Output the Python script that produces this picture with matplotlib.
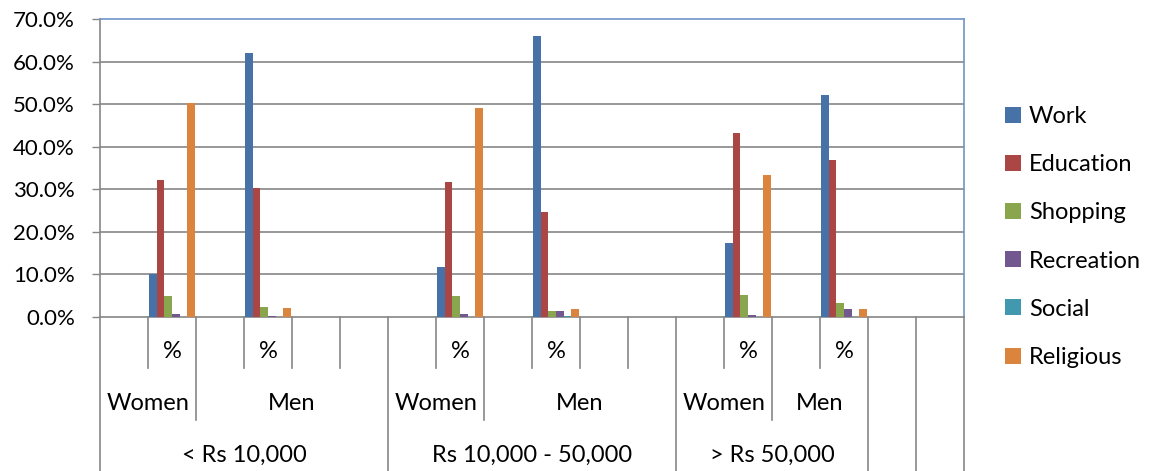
import numpy as np
import matplotlib
matplotlib.use('Agg')
import matplotlib.pyplot as plt

plt.rcParams['font.family'] = ['Lato', 'DejaVu Sans']

nan = np.nan

# 18 category slots from the sheet (blank rows included)
level1 = ['', '%', '', '%', '', '',
          '', '%', '', '%', '', '',
          '', '%', '', '%', '', '']
level2 = [('Women', 2), ('Men', 4),
          ('Women', 2), ('Men', 4),
          ('Women', 2), ('Men', 2), ('', 1), ('', 1)]
level3 = [('< Rs 10,000', 6), ('Rs 10,000 - 50,000', 6), ('> Rs 50,000', 4), ('', 1), ('', 1)]

series = ['Work', 'Education', 'Shopping', 'Recreation', 'Social', 'Religious']
work       = [nan, 10.0, nan, 62.0, nan, nan, nan, 11.8, nan, 65.9, nan, nan, nan, 17.4, nan, 52.2, nan, nan]
education  = [nan, 32.1, nan, 30.3, nan, nan, nan, 31.8, nan, 24.7, nan, nan, nan, 43.3, nan, 36.9, nan, nan]
shopping   = [nan, 5.0, nan, 2.4, nan, nan, nan, 5.0, nan, 1.3, nan, nan, nan, 5.1, nan, 3.3, nan, nan]
recreation = [nan, 0.8, nan, 0.2, nan, nan, nan, 0.6, nan, 1.3, nan, nan, nan, 0.5, nan, 1.9, nan, nan]
social     = [nan, 0.0, nan, 0.0, nan, nan, nan, 0.0, nan, 0.2, nan, nan, nan, 0.0, nan, 0.0, nan, nan]
religious  = [nan, 50.3, nan, 2.0, nan, nan, nan, 49.0, nan, 1.8, nan, nan, nan, 33.3, nan, 1.9, nan, nan]
values = [work, education, shopping, recreation, social, religious]

colors = ['#4672A8', '#AA4643', '#89A54E', '#71588F', '#4198AF', '#DB843D']
grid_c = '#868686'
fs = 17

fig = plt.figure(figsize=(11.5, 4.71), dpi=100)
ax = fig.add_axes([100 / 1150, 1 - 317 / 471, 864 / 1150, 298 / 471])

x = np.arange(len(level1))
w = 0.16
for i, (name, vals) in enumerate(zip(series, values)):
    ax.bar(x + (i - 2.5) * w, vals, w, color=colors[i], label=name, zorder=3)

ax.set_xlim(-0.5, len(level1) - 0.5)
ax.set_ylim(0, 70)
yt = np.arange(0, 71, 10)
ax.set_yticks(yt)
ax.set_yticklabels([f'{v:.1f}%' for v in yt], fontsize=16)
ax.tick_params(axis='y', length=6, width=1, color=grid_c, pad=12)
ax.set_xticks([])
for v in yt[1:-1]:
    ax.axhline(v, color=grid_c, lw=1.2, zorder=1)

for s in ['top', 'right']:
    ax.spines[s].set_color('#7094C8')
    ax.spines[s].set_linewidth(1.2)
for s in ['left', 'bottom']:
    ax.spines[s].set_color(grid_c)
    ax.spines[s].set_linewidth(1.2)

# multi-level category axis
tr = ax.get_xaxis_transform()
row_bot = [-51 / 298, -103 / 298, -154 / 298]
row_mid = [-35 / 298, -87 / 298, -138 / 298]


def bounds(spans):
    b, pos = {-0.5}, -0.5
    for _, n in spans:
        pos += n
        b.add(pos)
    return b


b2 = bounds(level2)
b3 = bounds(level3)
for k in range(len(level1) + 1):
    bx = k - 0.5
    depth = 2 if bx in b3 else (1 if bx in b2 else 0)
    ax.plot([bx, bx], [0, row_bot[depth]], transform=tr, color=grid_c,
            lw=1.2, clip_on=False)

for i, lab in enumerate(level1):
    ax.text(i, row_mid[0], lab, transform=tr, ha='center', va='center', fontsize=fs)

for row, spans in ((1, level2), (2, level3)):
    pos = -0.5
    for lab, n in spans:
        ax.text(pos + n / 2, row_mid[row], lab, transform=tr, ha='center',
                va='center', fontsize=fs)
        pos += n

leg = fig.legend(loc='center left', bbox_to_anchor=(1005 / 1150, 1 - 237 / 471),
                 frameon=False, fontsize=fs, handlelength=0.66, handleheight=0.66,
                 handletextpad=0.35, labelspacing=1.15, borderpad=0, borderaxespad=0)

fig.savefig('out.png', dpi=100)
